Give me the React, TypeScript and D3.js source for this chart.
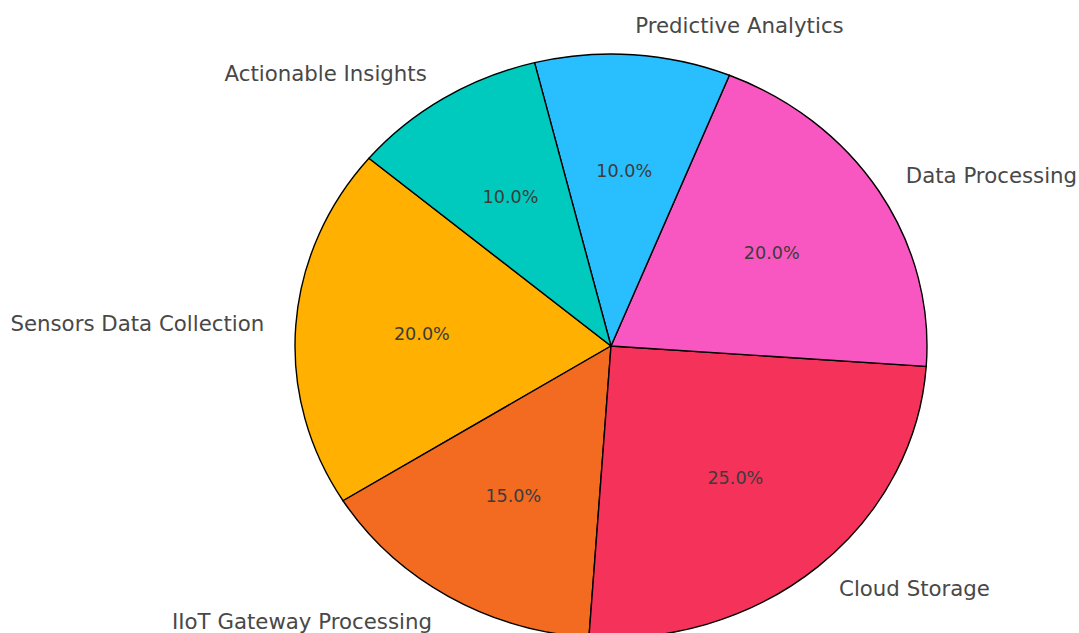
import React from "react";
import * as d3 from "d3";

const categories = [
  "Sensors Data Collection",
  "IIoT Gateway Processing",
  "Cloud Storage",
  "Data Processing",
  "Predictive Analytics",
  "Actionable Insights",
];
const shares = [20, 15, 25, 20, 10, 10];
const colors = ["#FFB000", "#F26B21", "#F5325A", "#F857C1", "#29BFFF", "#00C9BD"];

const W = 1079;
const H = 633;
const CX = 611;
const CY = 346;
const RX = 316;
const RY = 292;
const START_DEG = 140; // matplotlib startangle (ccw from east)

export default function App() {
  const start = ((90 - START_DEG) * Math.PI) / 180;
  const pie = d3
    .pie<number>()
    .sort(null)
    .startAngle(start)
    .endAngle(start - 2 * Math.PI);
  const arcs = pie(shares);
  const arc = d3.arc<d3.PieArcDatum<number>>().innerRadius(0).outerRadius(RY);
  const total = d3.sum(shares);

  return (
    <svg
      width={W}
      height={H}
      style={{ position: "absolute", left: 0, top: 0, background: "#fff" }}
      fontFamily="'DejaVu Sans', sans-serif"
    >
      <g transform={`translate(${CX},${CY}) scale(${RX / RY},1)`}>
        {arcs.map((a, i) => (
          <path
            key={i}
            d={arc(a) || ""}
            fill={colors[i]}
            stroke="#000"
            strokeWidth={1.4}
            strokeLinejoin="round"
            vectorEffect="non-scaling-stroke"
          />
        ))}
      </g>
      {arcs.map((a, i) => {
        const mid = (a.startAngle + a.endAngle) / 2;
        const sx = Math.sin(mid);
        const cy = Math.cos(mid);
        const lx = CX + 1.1 * RX * sx;
        const ly = CY - 1.1 * RY * cy;
        const px = CX + 0.6 * RX * sx;
        const py = CY - 0.6 * RY * cy;
        return (
          <g key={i}>
            <text
              x={lx}
              y={ly}
              fontSize={21.3}
              fill="#484848"
              textAnchor={sx < 0 ? "end" : "start"}
              dominantBaseline="central"
            >
              {categories[i]}
            </text>
            <text
              x={px}
              y={py}
              fontSize={17.6}
              fill="#3c3c3c"
              textAnchor="middle"
              dominantBaseline="central"
            >
              {((shares[i] / total) * 100).toFixed(1)}%
            </text>
          </g>
        );
      })}
    </svg>
  );
}
